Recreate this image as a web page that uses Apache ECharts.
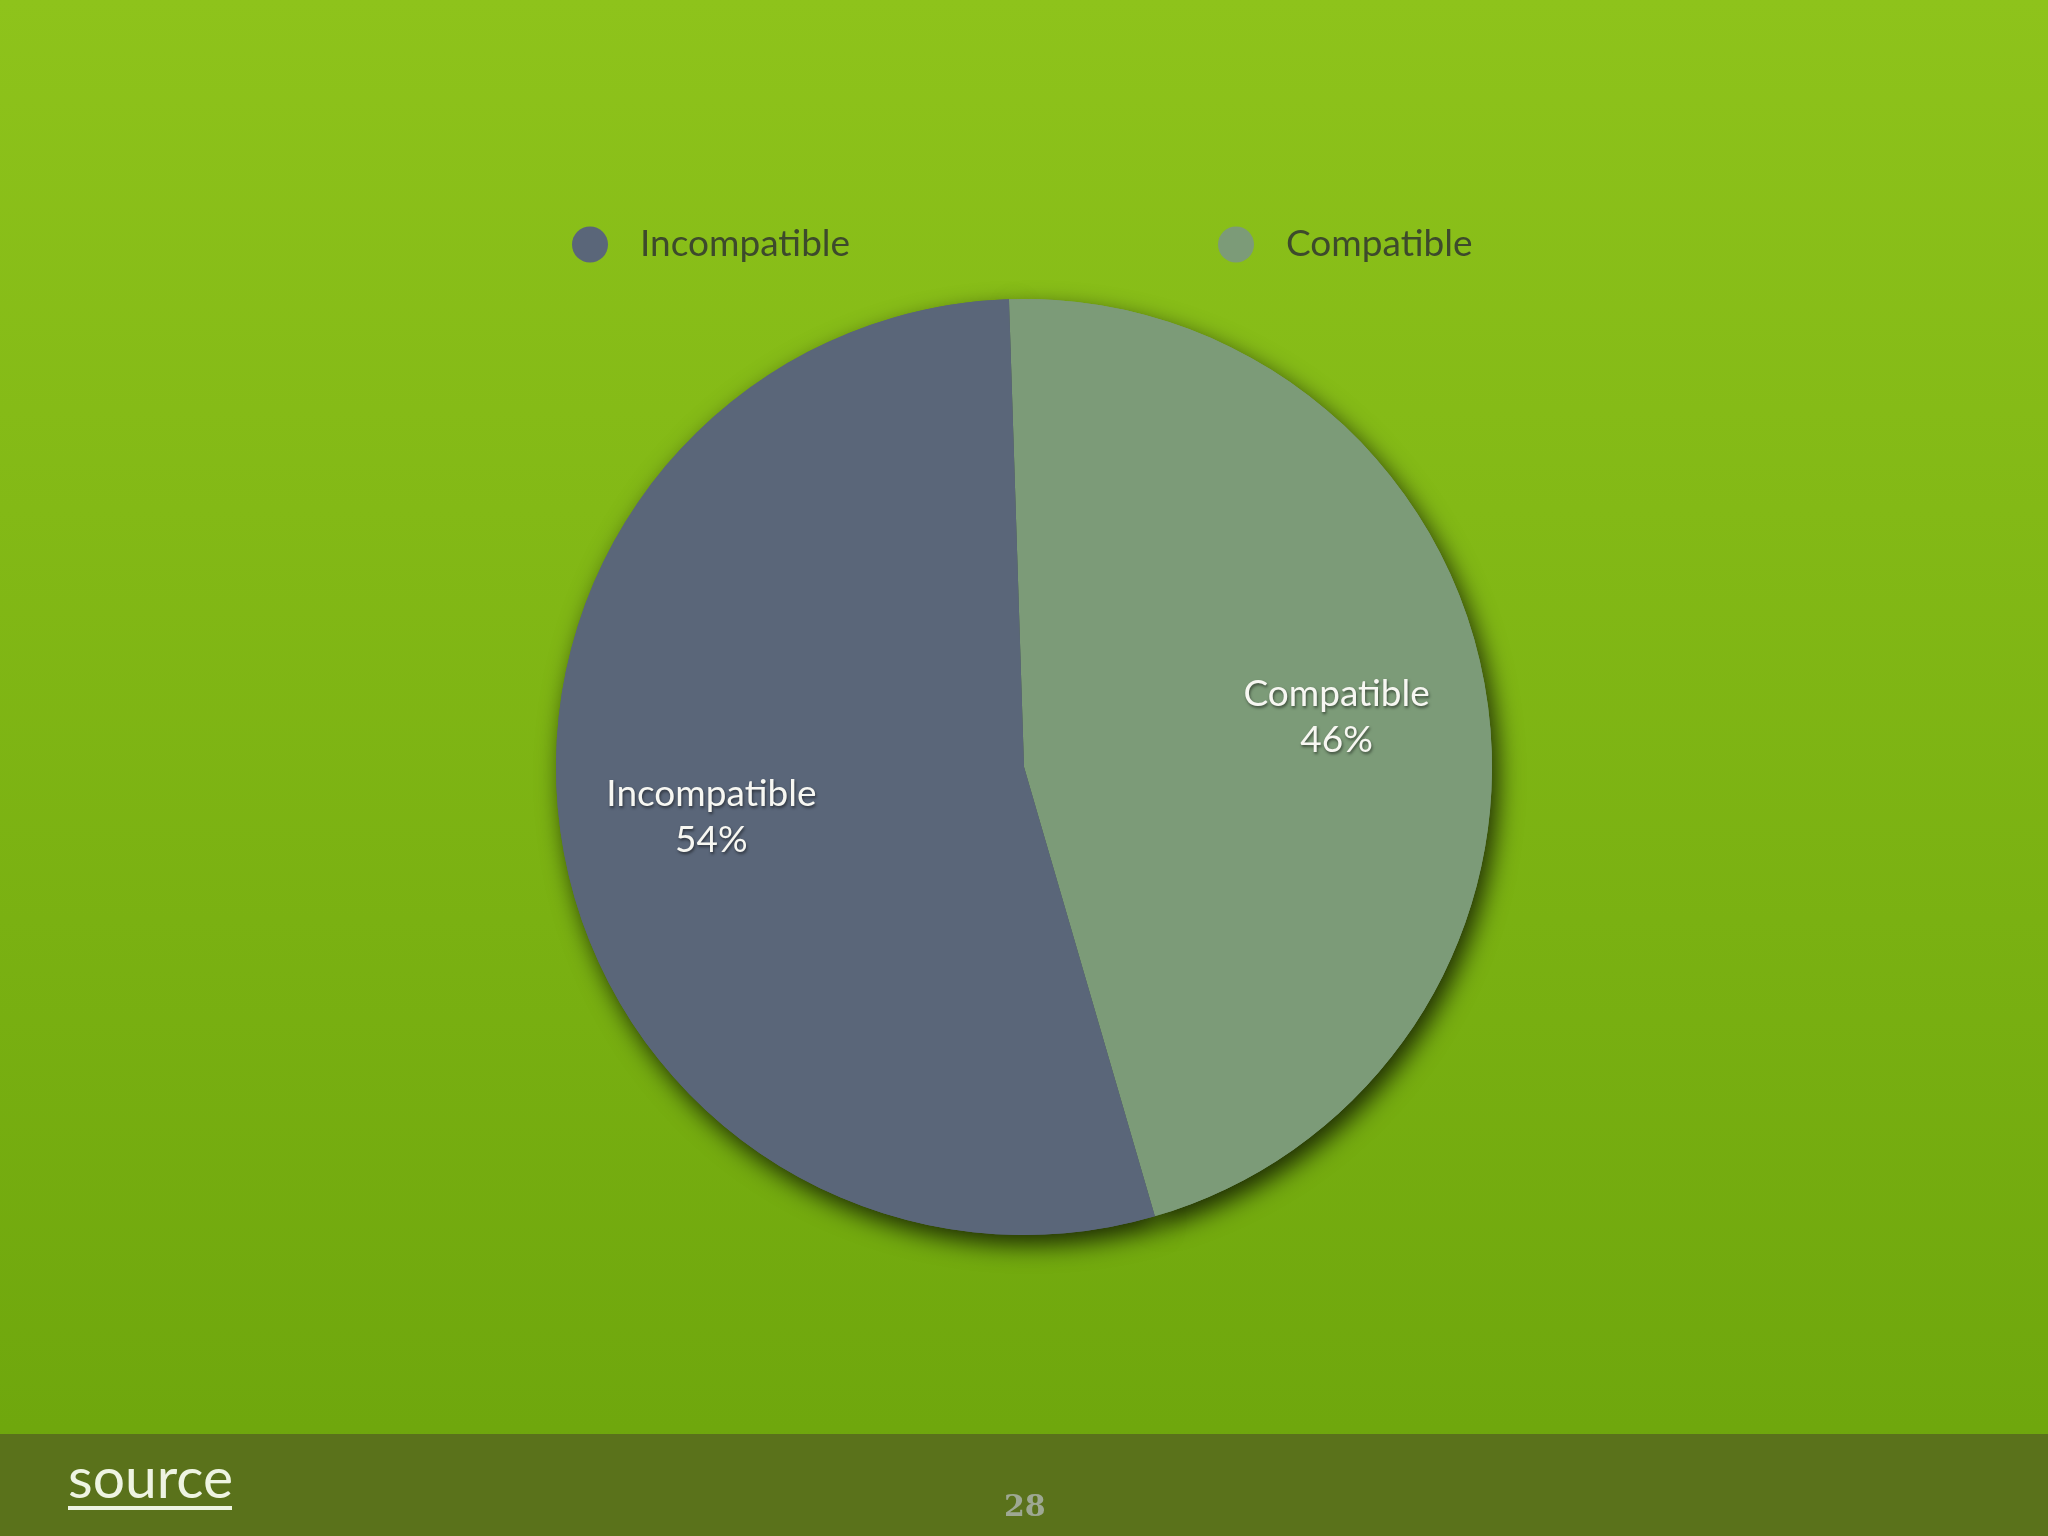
<!DOCTYPE html>
<html>
<head>
<meta charset="utf-8">
<script src="https://cdn.jsdelivr.net/npm/echarts@6/dist/echarts.min.js"></script>
<style>
html,body{margin:0;padding:0;background:#7fb514;}
#chart{width:2048px;height:1536px;}
</style>
</head>
<body>
<div id="chart"></div>
<script>
// Data
const categories = ['Compatible', 'Incompatible'];
const values = [46, 54];
const legendOrder = ['Incompatible', 'Compatible'];
const sliceColors = {Incompatible: '#5a6679', Compatible: '#7c9b78'};
const footerSource = 'source';
const pageNumber = '28';

const chart = echarts.init(document.getElementById('chart'));
const pieData = categories.map((c, i) => ({name: c, value: values[i], itemStyle: {color: sliceColors[c]}}));

const center = [1024, 767];
const R = 468;
const font = 'Lato, "Open Sans", sans-serif';

chart.setOption({
  backgroundColor: {
    type: 'linear', x: 0, y: 0, x2: 0, y2: 1,
    colorStops: [
      {offset: 0, color: '#8ec31b'},
      {offset: 0.93, color: '#6fa70d'},
      {offset: 1, color: '#6ca40c'}
    ]
  },
  legend: [
    {
      data: [legendOrder[0]], left: 567, top: 221, icon: 'circle',
      itemWidth: 36, itemHeight: 36,
      textStyle: {fontFamily: font, fontSize: 37, color: '#3d4a2c', padding: [0, 0, 0, 27]}
    },
    {
      data: [legendOrder[1]], left: 1213, top: 221, icon: 'circle',
      itemWidth: 36, itemHeight: 36,
      textStyle: {fontFamily: font, fontSize: 37, color: '#3d4a2c', padding: [0, 0, 0, 27]}
    }
  ],
  graphic: [
    {type: 'rect', left: 0, bottom: 0, shape: {width: 2048, height: 102}, style: {fill: '#5a721b'}, z: -1},
    {type: 'text', left: 68, top: 1451, style: {text: footerSource, font: '57px ' + font, fill: '#eef4e2'}},
    {type: 'rect', left: 68, top: 1506, shape: {width: 164, height: 4}, style: {fill: '#eef4e2'}},
    {type: 'text', left: 1004, top: 1493, style: {text: pageNumber, font: 'bold 30px "DejaVu Serif", serif', fill: '#9ea893'}}
  ],
  series: [
    {
      type: 'pie', center: center, radius: [0, R], startAngle: 91.84, clockwise: true,
      silent: true, z: 1,
      label: {show: false}, labelLine: {show: false},
      itemStyle: {shadowBlur: 24, shadowColor: 'rgba(0,0,0,0.75)', shadowOffsetX: 6, shadowOffsetY: 10},
      data: pieData
    },
    {
      type: 'pie', center: center, radius: [0, R], startAngle: 91.84, clockwise: true,
      silent: true, z: 2,
      label: {show: false}, labelLine: {show: false},
      data: pieData
    },
    {
      type: 'pie', center: center, radius: [R * 0.34, R], startAngle: 91.84, clockwise: true,
      silent: true, z: 3,
      itemStyle: {color: 'rgba(0,0,0,0)'},
      labelLine: {show: false},
      label: {
        show: true, position: 'inside',
        formatter: p => p.name + '\n' + p.value + '%',
        fontFamily: font, fontSize: 37, lineHeight: 46, color: '#f7f7f2', align: 'center',
        textShadowColor: 'rgba(0,0,0,0.5)', textShadowBlur: 3, textShadowOffsetX: 1, textShadowOffsetY: 2
      },
      data: categories.map((c, i) => ({name: c, value: values[i]}))
    }
  ]
});
</script>
</body>
</html>
